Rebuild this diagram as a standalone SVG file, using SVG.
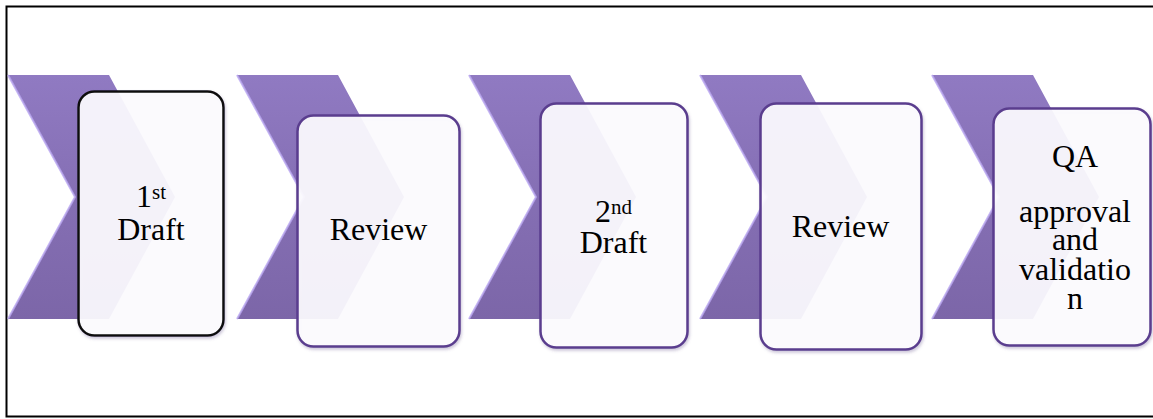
<svg xmlns="http://www.w3.org/2000/svg" width="1153" height="419" viewBox="0 0 1153 419">
  <defs>
    <linearGradient id="chevFill" x1="0" y1="0" x2="0" y2="1">
      <stop offset="0" stop-color="#907ac2"/>
      <stop offset="0.5" stop-color="#856fb4"/>
      <stop offset="1" stop-color="#7c66a8"/>
    </linearGradient>
    <polygon id="chev" points="0,75 101,75 167,197 101,319 0,319 67,197"/>
    <filter id="shadow" x="-10%" y="-10%" width="120%" height="120%">
      <feDropShadow dx="1" dy="2" stdDeviation="1.5" flood-color="#6a5a90" flood-opacity="0.35"/>
    </filter>
  </defs>
  <style>
    .chev { fill: url(#chevFill); }
    .hl { fill: none; stroke: #b9a6f0; stroke-width: 2; opacity: 0.8; }
    .card { fill: #fdfcff; fill-opacity: 0.92; stroke: #5a3d8e; stroke-width: 2.5; filter: url(#shadow); }
    .card.first { stroke: #111111; }
    .lbl { font-family: 'Liberation Serif', 'DejaVu Serif', serif; font-size: 32px; fill: #000; text-anchor: middle; }
    .sup { font-size: 21px; }
    .frame { fill: none; stroke: #000; stroke-width: 2; }
  </style>
  <rect width="1153" height="419" fill="#ffffff"/>
  <polyline class="frame" points="1153,6.5 6.5,6.5 6.5,416.5 1153,416.5"/>

  <g id="chevrons">
    <g transform="translate(8,0)"><use href="#chev" class="chev"/><polyline class="hl" points="0,75 67,197 0,319"/></g>
    <g transform="translate(237,0)"><use href="#chev" class="chev"/><polyline class="hl" points="0,75 67,197 0,319"/></g>
    <g transform="translate(469,0)"><use href="#chev" class="chev"/><polyline class="hl" points="0,75 67,197 0,319"/></g>
    <g transform="translate(700,0)"><use href="#chev" class="chev"/><polyline class="hl" points="0,75 67,197 0,319"/></g>
    <g transform="translate(932,0)"><use href="#chev" class="chev"/><polyline class="hl" points="0,75 67,197 0,319"/></g>
  </g>

  <g id="connectors"></g>

  <g id="node1">
    <rect class="card first" x="78.5" y="91.5" width="145" height="244" rx="16"/>
    <text class="lbl" x="151" y="207" font-family="Liberation Serif, serif"><tspan>1</tspan><tspan class="sup" dy="-8">st</tspan><tspan x="151" y="240">Draft</tspan></text>
  </g>

  <g id="node2">
    <rect class="card" x="297.5" y="115.5" width="162" height="231" rx="16"/>
    <text class="lbl" x="378.5" y="240" font-family="Liberation Serif, serif">Review</text>
  </g>

  <g id="node3">
    <rect class="card" x="540.5" y="103.5" width="147" height="244" rx="16"/>
    <text class="lbl" x="613.5" y="222" font-family="Liberation Serif, serif"><tspan>2</tspan><tspan class="sup" dy="-8">nd</tspan><tspan x="613.5" y="253">Draft</tspan></text>
  </g>

  <g id="node4">
    <rect class="card" x="760.5" y="103.5" width="161" height="246" rx="16"/>
    <text class="lbl" x="840.5" y="237" font-family="Liberation Serif, serif">Review</text>
  </g>

  <g id="node5">
    <rect class="card" x="993.5" y="108.5" width="157" height="237" rx="16"/>
    <text class="lbl" x="1075" y="167" font-family="Liberation Serif, serif"><tspan x="1075" y="167">QA</tspan><tspan x="1075" y="222">approval</tspan><tspan x="1075" y="250">and</tspan><tspan x="1075" y="280">validatio</tspan><tspan x="1075" y="309">n</tspan></text>
  </g>
</svg>
